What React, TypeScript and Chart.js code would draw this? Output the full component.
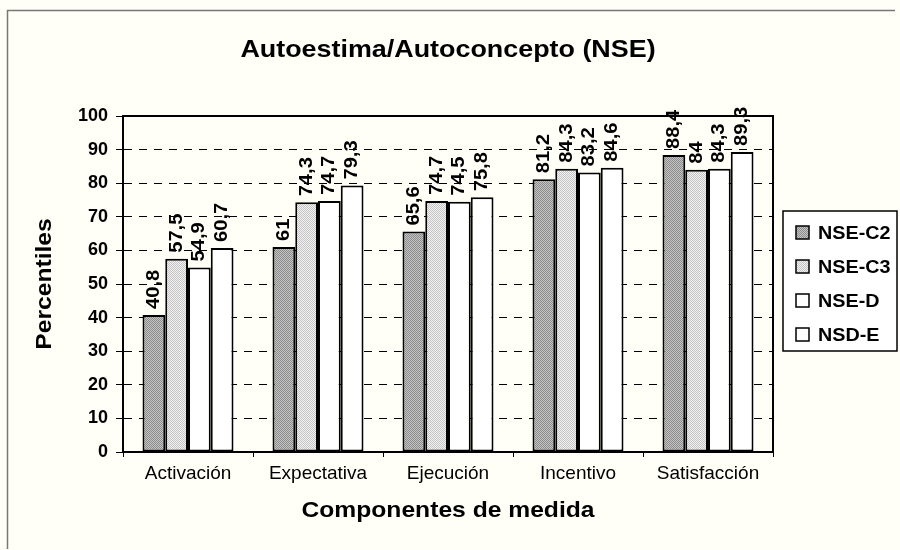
import React, { useEffect, useRef } from "react";
import { Chart, registerables } from "chart.js";

Chart.register(...registerables);

const categories = ["Activación", "Expectativa", "Ejecución", "Incentivo", "Satisfacción"];
const seriesNames = ["NSE-C2", "NSE-C3", "NSE-D", "NSD-E"];
const nseC2 = [40.8, 61, 65.6, 81.2, 88.4];
const nseC3 = [57.5, 74.3, 74.7, 84.3, 84];
const nseD = [54.9, 74.7, 74.5, 83.2, 84.3];
const nsdE = [60.7, 79.3, 75.8, 84.6, 89.3];
const yTicks = [0, 10, 20, 30, 40, 50, 60, 70, 80, 90, 100];

const FONT = "Arial, 'Liberation Sans', sans-serif";
const STRETCH = 1.12;

function makePattern(light: string, dark: string): CanvasPattern | string {
  const c = document.createElement("canvas");
  c.width = 4;
  c.height = 4;
  const g = c.getContext("2d");
  if (!g) return light;
  g.fillStyle = light;
  g.fillRect(0, 0, 4, 4);
  g.fillStyle = dark;
  for (let y = 0; y < 4; y++) {
    for (let x = 0; x < 4; x++) {
      if ((x + y) % 2 === 0) g.fillRect(x, y, 1, 1);
    }
  }
  const p = g.createPattern(c, "repeat");
  return p || light;
}

function stretchedText(
  ctx: CanvasRenderingContext2D,
  text: string,
  x: number,
  y: number,
  rot: number,
  align: CanvasTextAlign
) {
  ctx.save();
  ctx.translate(x, y);
  ctx.rotate(rot);
  ctx.scale(STRETCH, 1);
  ctx.textAlign = align;
  ctx.textBaseline = "middle";
  ctx.fillText(text, 0, 0);
  ctx.restore();
}

export default function App() {
  const ref = useRef<HTMLCanvasElement>(null);

  useEffect(() => {
    if (!ref.current) return;
    const darkPat = makePattern("#c4c4c4", "#8c8c8c");
    const lightPat = makePattern("#f2f2f2", "#c4c4c4");
    const fills = [darkPat, lightPat, "#ffffff", "#ffffff"];
    const values = [nseC2, nseC3, nseD, nsdE];

    const decor = {
      id: "decor",
      beforeDraw(chart: any) {
        const ctx = chart.ctx;
        ctx.save();
        ctx.fillStyle = "#fffff8";
        ctx.fillRect(0, 0, chart.width, chart.height);
        ctx.strokeStyle = "#777";
        ctx.lineWidth = 1.5;
        ctx.beginPath();
        ctx.moveTo(7.5, 549);
        ctx.lineTo(7.5, 10.5);
        ctx.lineTo(895, 10.5);
        ctx.stroke();
        ctx.restore();
      },
      afterDraw(chart: any) {
        const ctx = chart.ctx;
        const a = chart.chartArea;
        ctx.save();
        // plot frame top/right
        ctx.strokeStyle = "#000";
        ctx.lineWidth = 2;
        ctx.beginPath();
        ctx.moveTo(a.left, a.top);
        ctx.lineTo(a.right, a.top);
        ctx.lineTo(a.right, a.bottom);
        ctx.stroke();

        // data labels
        ctx.fillStyle = "#000";
        ctx.font = `bold 18px ${FONT}`;
        chart.data.datasets.forEach((ds: any, i: number) => {
          const meta = chart.getDatasetMeta(i);
          meta.data.forEach((bar: any, j: number) => {
            const v = ds.data[j];
            const txt = String(v).replace(".", ",");
            stretchedText(ctx, txt, bar.x, bar.y - 6, -Math.PI / 2, "left");
          });
        });

        const cx = (a.left + a.right) / 2;
        // title
        ctx.font = `bold 24px ${FONT}`;
        stretchedText(ctx, "Autoestima/Autoconcepto (NSE)", cx, 50, 0, "center");
        // x title
        ctx.font = `bold 22px ${FONT}`;
        stretchedText(ctx, "Componentes de medida", cx, 511, 0, "center");
        // y title
        stretchedText(ctx, "Percentiles", 45, (a.top + a.bottom) / 2, -Math.PI / 2, "center");

        // legend
        const lx = 783, ly = 211, lw = 114, lh = 140;
        ctx.fillStyle = "#ffffff";
        ctx.fillRect(lx, ly, lw, lh);
        ctx.strokeStyle = "#000";
        ctx.lineWidth = 1.5;
        ctx.strokeRect(lx, ly, lw, lh);
        ctx.font = `bold 19px ${FONT}`;
        chart.data.datasets.forEach((ds: any, i: number) => {
          const cy = 233 + i * 34;
          ctx.fillStyle = ds.backgroundColor;
          ctx.fillRect(796, cy - 7, 13, 13);
          ctx.strokeStyle = "#000";
          ctx.lineWidth = 1.5;
          ctx.strokeRect(796, cy - 7, 13, 13);
          ctx.fillStyle = "#000";
          ctx.save();
          ctx.translate(818, cy + 1);
          ctx.scale(1.04, 1);
          ctx.textAlign = "left";
          ctx.textBaseline = "middle";
          ctx.fillText(ds.label, 0, 0);
          ctx.restore();
        });
        ctx.restore();
      },
    };

    const chart = new Chart(ref.current, {
      type: "bar",
      data: {
        labels: categories,
        datasets: seriesNames.map((name, i) => ({
          label: name,
          data: values[i],
          backgroundColor: fills[i] as any,
          borderColor: "#000",
          borderWidth: 2,
          borderSkipped: false,
          categoryPercentage: 0.7,
          barPercentage: 1,
        })),
      },
      options: {
        responsive: false,
        animation: false,
        events: [],
        layout: { padding: { top: 116, right: 127, bottom: 0, left: 0 } },
        plugins: {
          legend: { display: false },
          title: { display: false },
          tooltip: { enabled: false },
        },
        scales: {
          x: {
            offset: true,
            grid: {
              offset: true,
              drawOnChartArea: false,
              drawTicks: true,
              tickLength: 5,
              color: "#000",
              lineWidth: 1,
            },
            border: { display: true, color: "#000", width: 2 },
            ticks: {
              color: "#000",
              font: { family: FONT, size: 19 },
              padding: 5,
            },
            afterFit: (s: any) => {
              s.height = 98;
            },
          },
          y: {
            min: 0,
            max: 100,
            afterBuildTicks: (s: any) => {
              s.ticks = yTicks.map((v) => ({ value: v }));
            },
            grid: {
              color: "#000",
              lineWidth: 1,
              drawTicks: true,
              tickLength: 7,
              tickBorderDash: [],
            },
            border: { display: true, color: "#000", width: 2, dash: [8, 7] },
            ticks: {
              color: "#000",
              font: { family: FONT, size: 18, weight: "bold" },
              padding: 8,
            },
            afterFit: (s: any) => {
              s.width = 123;
            },
          },
        },
      },
      plugins: [decor],
    });
    return () => chart.destroy();
  }, []);

  return (
    <div style={{ position: "fixed", left: 0, top: 0, width: 900, height: 550 }}>
      <canvas ref={ref} width={900} height={550} />
    </div>
  );
}
